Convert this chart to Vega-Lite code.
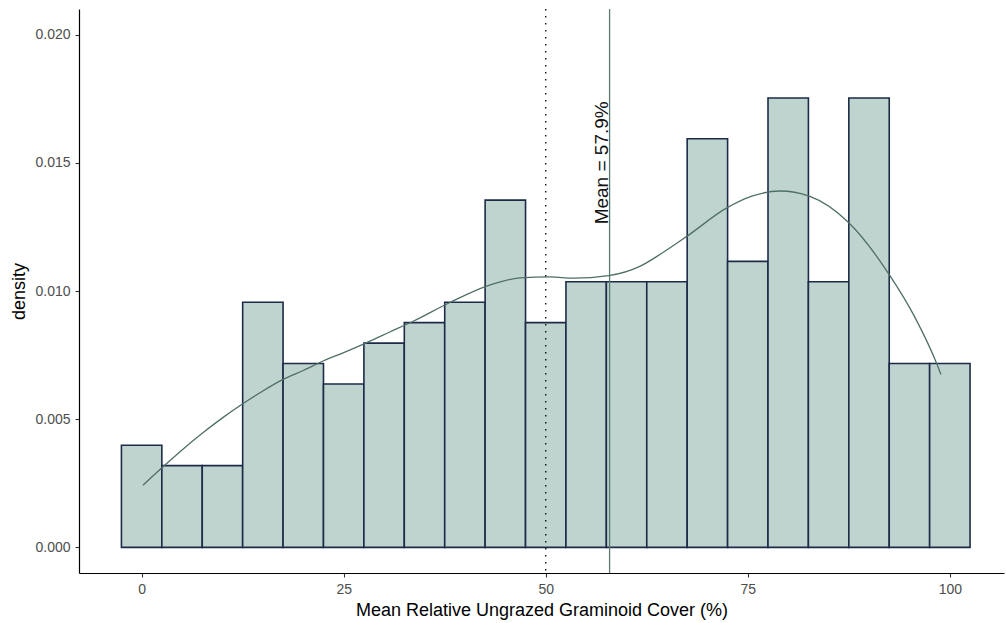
{
  "$schema": "https://vega.github.io/schema/vega-lite/v6.json",
  "autosize": {"type": "none"},
  "width": 925,
  "height": 564,
  "padding": {"left": 79, "top": 9, "right": 2, "bottom": 50},
  "background": "white",
  "config": {
    "view": {"stroke": null},
    "font": "Liberation Sans",
    "axis": {
      "grid": false,
      "domainColor": "#000000",
      "domainWidth": 1.2,
      "tickColor": "#333333",
      "tickWidth": 1.1,
      "tickSize": 4,
      "labelColor": "#4d4d4d",
      "labelFontSize": 14,
      "labelFont": "Liberation Sans",
      "titleFont": "Liberation Sans",
      "titleFontSize": 18,
      "titleFontWeight": "normal",
      "titleColor": "#000000"
    }
  },
  "datasets": {
    "bins": [
      {"x0": -2.5, "x1": 2.5, "density": 0.003984},
      {"x0": 2.5, "x1": 7.5, "density": 0.003187},
      {"x0": 7.5, "x1": 12.5, "density": 0.003187},
      {"x0": 12.5, "x1": 17.5, "density": 0.009562},
      {"x0": 17.5, "x1": 22.5, "density": 0.007171},
      {"x0": 22.5, "x1": 27.5, "density": 0.006375},
      {"x0": 27.5, "x1": 32.5, "density": 0.007968},
      {"x0": 32.5, "x1": 37.5, "density": 0.008765},
      {"x0": 37.5, "x1": 42.5, "density": 0.009562},
      {"x0": 42.5, "x1": 47.5, "density": 0.013546},
      {"x0": 47.5, "x1": 52.5, "density": 0.008765},
      {"x0": 52.5, "x1": 57.5, "density": 0.010359},
      {"x0": 57.5, "x1": 62.5, "density": 0.010359},
      {"x0": 62.5, "x1": 67.5, "density": 0.010359},
      {"x0": 67.5, "x1": 72.5, "density": 0.015936},
      {"x0": 72.5, "x1": 77.5, "density": 0.011155},
      {"x0": 77.5, "x1": 82.5, "density": 0.01753},
      {"x0": 82.5, "x1": 87.5, "density": 0.010359},
      {"x0": 87.5, "x1": 92.5, "density": 0.01753},
      {"x0": 92.5, "x1": 97.5, "density": 0.007171},
      {"x0": 97.5, "x1": 102.5, "density": 0.007171}
    ],
    "curve": [
      {"x": 0.16, "density": 0.00242},
      {"x": 2.85, "density": 0.0032},
      {"x": 5.0, "density": 0.0038},
      {"x": 7.5, "density": 0.00445},
      {"x": 10.0, "density": 0.00505},
      {"x": 12.6, "density": 0.00562},
      {"x": 15.0, "density": 0.0061},
      {"x": 17.5, "density": 0.00655},
      {"x": 20.0, "density": 0.0069},
      {"x": 22.5, "density": 0.00728},
      {"x": 25.0, "density": 0.0076},
      {"x": 27.8, "density": 0.00798},
      {"x": 30.7, "density": 0.0084},
      {"x": 33.6, "density": 0.00882},
      {"x": 38.2, "density": 0.00956},
      {"x": 42.7, "density": 0.01019},
      {"x": 46.8, "density": 0.01051},
      {"x": 50.6, "density": 0.01055},
      {"x": 53.4, "density": 0.0105},
      {"x": 57.8, "density": 0.0106},
      {"x": 61.7, "density": 0.01097},
      {"x": 64.5, "density": 0.0115},
      {"x": 67.5, "density": 0.01214},
      {"x": 72.4, "density": 0.01324},
      {"x": 75.5, "density": 0.0137},
      {"x": 79.0, "density": 0.0139},
      {"x": 82.6, "density": 0.0137},
      {"x": 87.5, "density": 0.01266},
      {"x": 92.5, "density": 0.01064},
      {"x": 95.6, "density": 0.00902},
      {"x": 98.5, "density": 0.00707},
      {"x": 98.9, "density": 0.00674}
    ],
    "refs": [
      {"x": 50, "kind": "threshold"},
      {"x": 57.9, "kind": "mean", "y": 0.015, "label": "Mean = 57.9%"}
    ]
  },
  "layer": [
    {
      "data": {"name": "bins"},
      "mark": {"type": "rect", "fill": "#c0d4cf", "stroke": "#1c2b48", "strokeWidth": 1.6},
      "encoding": {
        "x": {
          "field": "x0", "type": "quantitative",
          "scale": {"domain": [-7.75, 106.7], "nice": false, "zero": false},
          "axis": {"values": [0, 25, 50, 75, 100], "labelPadding": 5, "titlePadding": 5},
          "title": "Mean Relative Ungrazed Graminoid Cover (%)"
        },
        "x2": {"field": "x1"},
        "y": {
          "field": "density", "type": "quantitative",
          "scale": {"domain": [-0.001, 0.021], "nice": false, "zero": false},
          "axis": {"values": [0, 0.005, 0.01, 0.015, 0.02], "format": ".3f", "labelPadding": 5, "titlePadding": 6},
          "title": "density"
        },
        "y2": {"datum": 0}
      }
    },
    {
      "data": {"name": "curve"},
      "mark": {"type": "line", "color": "#4f6f64", "strokeWidth": 1.3, "interpolate": "monotone"},
      "encoding": {
        "x": {"field": "x", "type": "quantitative"},
        "y": {"field": "density", "type": "quantitative"}
      }
    },
    {
      "data": {"name": "refs"},
      "transform": [{"filter": "datum.kind === 'threshold'"}],
      "mark": {"type": "rule", "color": "#000000", "strokeWidth": 1.3, "strokeDash": [1.5, 5.5]},
      "encoding": {
        "x": {"field": "x", "type": "quantitative"}
      }
    },
    {
      "data": {"name": "refs"},
      "transform": [{"filter": "datum.kind === 'mean'"}],
      "mark": {"type": "rule", "color": "#5b7a70", "strokeWidth": 1.3},
      "encoding": {
        "x": {"field": "x", "type": "quantitative"}
      }
    },
    {
      "data": {"name": "refs"},
      "transform": [{"filter": "datum.kind === 'mean'"}],
      "mark": {"type": "text", "angle": 270, "align": "center", "baseline": "alphabetic", "fontSize": 19, "color": "#111111", "dy": -2, "font": "Liberation Sans"},
      "encoding": {
        "x": {"field": "x", "type": "quantitative"},
        "y": {"field": "y", "type": "quantitative"},
        "text": {"field": "label"}
      }
    }
  ]
}
